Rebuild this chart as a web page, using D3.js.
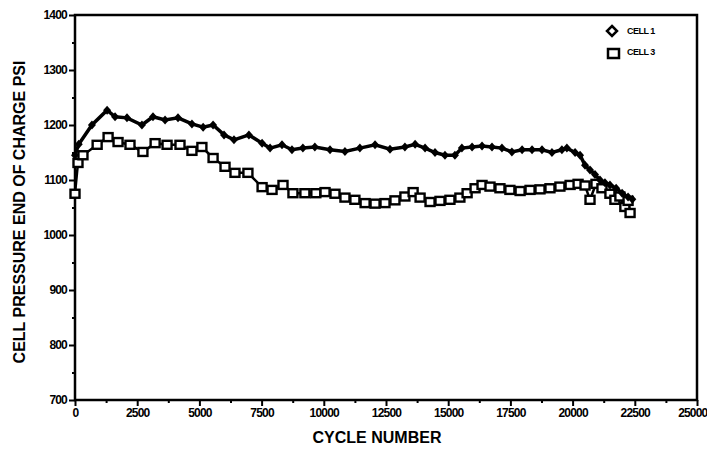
<!DOCTYPE html>
<html>
<head>
<meta charset="utf-8">
<script src="https://d3js.org/d3.v7.min.js"></script>
<style>
  body { margin: 0; background: #fff; }
  svg text { font-family: "Liberation Sans", Arial, sans-serif; font-weight: bold; fill: #000; }
</style>
</head>
<body>
<div id="chart"></div>
<script>
// cycle number / end of charge pressure (psi)
var cell1Cycles = [0, 150, 680, 1290, 1610, 2090, 2690, 3135, 3620, 4140, 4700, 5150, 5550, 5990, 6390, 6990, 7520, 7840, 8320, 8720, 9160, 9640,
  10250, 10850, 11450, 12060, 12660, 13260, 13670, 14070, 14470, 14870, 15270, 15550, 15960, 16360, 16760, 17160, 17560, 17970, 18370, 18770,
  19170, 19570, 19770, 20100, 20300, 20500, 20700, 20900, 21100, 21300, 21500, 21750, 21990, 22230, 22400];
var cell1Psi = [1145, 1165, 1200, 1227, 1215, 1213, 1200, 1215, 1209, 1213, 1202, 1196, 1200, 1182, 1173, 1182, 1167, 1158, 1164, 1155, 1158, 1160,
  1155, 1152, 1158, 1164, 1156, 1160, 1165, 1158, 1150, 1145, 1145, 1158, 1160, 1162, 1160, 1158, 1151, 1155, 1155, 1155,
  1150, 1155, 1158, 1150, 1145, 1127, 1118, 1110, 1100, 1095, 1091, 1085, 1076, 1069, 1065];

var cell3Cycles = [0, 120, 320, 890, 1330, 1730, 2210, 2730, 3220, 3700, 4220, 4700, 5100, 5550, 6030, 6430, 6950, 7520, 7920, 8360, 8760, 9240, 9680,
  10050, 10450, 10850, 11250, 11660, 12060, 12460, 12860, 13260, 13590, 13870, 14270, 14670, 15070, 15470, 15760, 16080, 16360, 16680, 17080,
  17480, 17890, 18290, 18690, 19090, 19490, 19900, 20220, 20500, 20700, 20940, 21180, 21500, 21700, 21900, 22100, 22230, 22310];
var cell3Psi = [1075, 1131, 1145, 1164, 1178, 1169, 1164, 1151, 1167, 1164, 1164, 1153, 1160, 1140, 1124, 1113, 1113, 1087, 1082, 1091, 1076, 1076, 1076,
  1078, 1075, 1068, 1064, 1058, 1057, 1058, 1063, 1070, 1078, 1068, 1060, 1062, 1064, 1068, 1076, 1085, 1091, 1088, 1085,
  1082, 1080, 1082, 1083, 1085, 1088, 1091, 1093, 1090, 1064, 1093, 1085, 1075, 1064, 1070, 1051, 1062, 1040];

var xTicks = d3.range(0, 25001, 2500);
var yTicks = d3.range(700, 1401, 100);

var width = 707, height = 450;
var plot = {left: 75, right: 697, top: 15, bottom: 400};

var svg = d3.select("#chart").append("svg")
  .attr("width", width).attr("height", height);

var x = d3.scaleLinear().domain([0, 25000]).range([plot.left, plot.right]);
var y = d3.scaleLinear().domain([700, 1400]).range([plot.bottom, plot.top]);

// frame
svg.append("rect")
  .attr("x", plot.left).attr("y", plot.top)
  .attr("width", plot.right - plot.left).attr("height", plot.bottom - plot.top)
  .style("fill", "none").style("stroke", "#000").style("stroke-width", 2.5);

// minor ticks
svg.append("g").attr("transform", "translate(0," + plot.bottom + ")")
  .call(d3.axisBottom(x).tickValues(d3.range(1250, 25000, 2500)).tickSize(3).tickFormat(""))
  .call(function(g) { g.select(".domain").remove(); g.selectAll("line").style("stroke-width", 2); });
svg.append("g").attr("transform", "translate(" + plot.left + ",0)")
  .call(d3.axisLeft(y).tickValues(d3.range(750, 1400, 100)).tickSize(3).tickFormat(""))
  .call(function(g) { g.select(".domain").remove(); g.selectAll("line").style("stroke-width", 2); });

// major axes
var xAxis = svg.append("g").attr("transform", "translate(0," + plot.bottom + ")")
  .call(d3.axisBottom(x).tickValues(xTicks).tickSize(6).tickPadding(2).tickFormat(d3.format("d")));
xAxis.select(".domain").remove();
xAxis.selectAll("line").style("stroke-width", 2);
xAxis.selectAll("text").style("font-size", "12px").style("letter-spacing", "-0.8px");
// last label sits against the right edge
xAxis.selectAll("text").filter(function(d) { return d === 25000; })
  .attr("text-anchor", "end").attr("dx", 10);

var yAxis = svg.append("g").attr("transform", "translate(" + plot.left + ",0)")
  .call(d3.axisLeft(y).tickValues(yTicks).tickSize(6).tickPadding(2).tickFormat(d3.format("d")));
yAxis.select(".domain").remove();
yAxis.selectAll("line").style("stroke-width", 2);
yAxis.selectAll("text").style("font-size", "12px").style("letter-spacing", "-0.8px");

// axis titles
svg.append("text")
  .attr("x", 377).attr("y", 443)
  .attr("text-anchor", "middle")
  .style("font-size", "16px")
  .text("CYCLE NUMBER");

svg.append("text")
  .attr("transform", "translate(25,212) rotate(-90)")
  .attr("text-anchor", "middle")
  .style("font-size", "16px")
  .text("CELL PRESSURE END OF CHARGE PSI");

var line = d3.line()
  .x(function(d) { return x(d[0]); })
  .y(function(d) { return y(d[1]); });

var cell1 = cell1Cycles.map(function(c, i) { return [c, cell1Psi[i]]; });
var cell3 = cell3Cycles.map(function(c, i) { return [c, cell3Psi[i]]; });

// cell 3: open squares
svg.append("path").datum(cell3)
  .attr("d", line)
  .style("fill", "none").style("stroke", "#000").style("stroke-width", 2.5);
svg.selectAll(".sq").data(cell3).enter().append("rect")
  .attr("class", "sq")
  .attr("x", function(d) { return x(d[0]) - 4.5; })
  .attr("y", function(d) { return y(d[1]) - 4; })
  .attr("width", 9).attr("height", 8)
  .style("fill", "#fff").style("stroke", "#000").style("stroke-width", 2.4);

// cell 1: diamonds
svg.append("path").datum(cell1)
  .attr("d", line)
  .style("fill", "none").style("stroke", "#000").style("stroke-width", 3.5);
svg.selectAll(".dm").data(cell1).enter().append("path")
  .attr("class", "dm")
  .attr("transform", function(d) { return "translate(" + x(d[0]) + "," + y(d[1]) + ")"; })
  .attr("d", "M0,-4.5L4,0L0,4.5L-4,0Z")
  .style("fill", "#000");

// legend
svg.append("path")
  .attr("transform", "translate(612,31)")
  .attr("d", "M0,-5L5,0L0,5L-5,0Z")
  .style("fill", "#fff").style("stroke", "#000").style("stroke-width", 2.5);
svg.append("rect")
  .attr("x", 608).attr("y", 49).attr("width", 11).attr("height", 9)
  .style("fill", "#fff").style("stroke", "#000").style("stroke-width", 2.5);
svg.append("text").attr("x", 627).attr("y", 34).style("font-size", "9px").style("letter-spacing", "-0.5px").text("CELL 1");
svg.append("text").attr("x", 627).attr("y", 55).style("font-size", "9px").style("letter-spacing", "-0.5px").text("CELL 3");
</script>
</body>
</html>
